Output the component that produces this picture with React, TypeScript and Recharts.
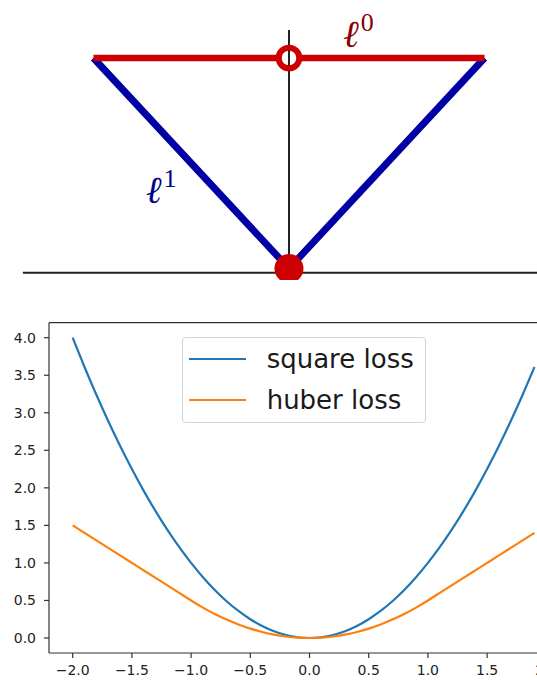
import { ComposedChart, LineChart, Line, Scatter, XAxis, YAxis, Legend, ReferenceLine } from "recharts";

// --- ℓ1 / ℓ0 penalty sketch (1-D) ---
const l1X = [-1, 0, 1];
const l1Y = [1, 0, 1];
const l0X = [-1, 1];
const l0Y = [1, 1];
const hAxisX = [-1.361, 1.3];
const hAxisY = [-0.02, -0.02];
const vAxisX = [0, 0];
const vAxisY = [-0.02, 1.133];
const openDotPts = [{ x: 0, y: 1 }];
const closedDotPts = [{ x: 0, y: 0 }];
const l0Label = [{ x: 0.276, y: 1.05, sup: "0" }];
const l1Label = [{ x: -0.733, y: 0.31, sup: "1" }];

// --- square vs huber loss ---
const lossX = [
  -2.0, -1.9, -1.8, -1.7, -1.6, -1.5, -1.4, -1.3, -1.2, -1.1,
  -1.0, -0.9, -0.8, -0.7, -0.6, -0.5, -0.4, -0.3, -0.2, -0.1,
  0.0, 0.1, 0.2, 0.3, 0.4, 0.5, 0.6, 0.7, 0.8, 0.9,
  1.0, 1.1, 1.2, 1.3, 1.4, 1.5, 1.6, 1.7, 1.8, 1.9,
];
const squareLoss = [
  4.0, 3.61, 3.24, 2.89, 2.56, 2.25, 1.96, 1.69, 1.44, 1.21,
  1.0, 0.81, 0.64, 0.49, 0.36, 0.25, 0.16, 0.09, 0.04, 0.01,
  0.0, 0.01, 0.04, 0.09, 0.16, 0.25, 0.36, 0.49, 0.64, 0.81,
  1.0, 1.21, 1.44, 1.69, 1.96, 2.25, 2.56, 2.89, 3.24, 3.61,
];
const huberLoss = [
  1.5, 1.4, 1.3, 1.2, 1.1, 1.0, 0.9, 0.8, 0.7, 0.6,
  0.5, 0.405, 0.32, 0.245, 0.18, 0.125, 0.08, 0.045, 0.02, 0.005,
  0.0, 0.005, 0.02, 0.045, 0.08, 0.125, 0.18, 0.245, 0.32, 0.405,
  0.5, 0.6, 0.7, 0.8, 0.9, 1.0, 1.1, 1.2, 1.3, 1.4,
];
const seriesNames = ["square loss", "huber loss"];
const xTicks = [-2, -1.5, -1, -0.5, 0, 0.5, 1, 1.5, 2];
const yTicks = [0, 0.5, 1, 1.5, 2, 2.5, 3, 3.5, 4];
const yTop = 4.2;

const zip = (xs: number[], ys: number[]) => xs.map((x, i) => ({ x, y: ys[i] }));

const lossRows = lossX.map((x, i) => ({ x, square: squareLoss[i], huber: huberLoss[i] }));

const RED = "#cc0000";
const BLUE = "#0000a5";
const AXIS = "#222";
const SQUARE = "#1f77b4";
const HUBER = "#ff7f0e";
const SPINE = "#333";
const mathFont = "'Liberation Serif', 'DejaVu Serif', serif";
const tickFamily = "'DejaVu Sans', sans-serif";
const tickSize = 14;

const fmt = (v: number) => v.toFixed(1).replace("-", "\u2212");

function XTick(props: any) {
  const { x, y, payload } = props;
  return (
    <text x={x} y={y} dy="0.75em" textAnchor="middle" fill="#222"
      fontFamily={tickFamily} fontSize={tickSize}>
      {fmt(payload.value)}
    </text>
  );
}

function YTick(props: any) {
  const { x, y, payload } = props;
  return (
    <text x={x} y={y} dy="0.36em" textAnchor="end" fill="#222"
      fontFamily={tickFamily} fontSize={tickSize}>
      {fmt(payload.value)}
    </text>
  );
}

function OpenDot(props: any) {
  const { cx, cy } = props;
  const r = 10.3;
  return (
    <g>
      <circle cx={cx} cy={cy} r={r} fill="#fff" />
      <line x1={cx} x2={cx} y1={cy - r} y2={cy + r} stroke={AXIS} strokeWidth={2} />
      <circle cx={cx} cy={cy} r={r} fill="none" stroke={RED} strokeWidth={6} />
    </g>
  );
}

function ClosedDot(props: any) {
  const { cx, cy } = props;
  return <circle cx={cx} cy={cy} r={14.5} fill={RED} />;
}

function normLabel(color: string) {
  return (props: any) => {
    const { cx, cy, payload } = props;
    return (
      <text x={cx} y={cy} fill={color} fontFamily={mathFont}>
        <tspan fontStyle="italic" fontSize={38}>ℓ</tspan>
        <tspan fontSize={26} dx={2} dy={-16}>{payload.sup}</tspan>
      </text>
    );
  };
}

// legend box in matplotlib style; entries kept in plotting order
function LossLegend() {
  const entries = [
    { name: seriesNames[0], color: SQUARE },
    { name: seriesNames[1], color: HUBER },
  ];
  return (
    <div
      style={{
        boxSizing: "border-box",
        width: 244.5,
        height: 86.5,
        paddingTop: 1,
        border: "1px solid #d4d4d4",
        borderRadius: 4,
        background: "rgba(255,255,255,0.8)",
        fontFamily: "'DejaVu Sans', sans-serif",
        fontSize: 26,
        color: "#1a1a1a",
      }}
    >
      {entries.map((e) => (
        <div key={e.name} style={{ display: "flex", alignItems: "center", height: 41 }}>
          <div style={{ marginLeft: 6.6, width: 56.7, height: 2.5, background: e.color }} />
          <span style={{ marginLeft: 20.7, lineHeight: "41px", whiteSpace: "nowrap" }}>{e.name}</span>
        </div>
      ))}
    </div>
  );
}

export default function App() {
  return (
    <div
      style={{
        position: "fixed",
        left: 0,
        top: 0,
        width: 537,
        height: 680,
        overflow: "hidden",
        background: "#fff",
      }}
    >
      <div style={{ position: "absolute", left: 0, top: 0, width: 537, height: 280 }}>
        <ComposedChart width={537} height={280} margin={{ top: 0, right: 0, bottom: 0, left: 0 }}>
          <XAxis hide type="number" dataKey="x" domain={[-1.478, 1.2685]} allowDataOverflow />
          <YAxis hide type="number" dataKey="y" domain={[-0.0546, 1.2755]} allowDataOverflow />
          <Line data={zip(hAxisX, hAxisY)} dataKey="y" type="linear" stroke={AXIS} strokeWidth={2}
            dot={false} activeDot={false} isAnimationActive={false} />
          <Line data={zip(vAxisX, vAxisY)} dataKey="y" type="linear" stroke={AXIS} strokeWidth={2}
            dot={false} activeDot={false} isAnimationActive={false} />
          <Line data={zip(l1X, l1Y)} dataKey="y" type="linear" stroke={BLUE} strokeWidth={7}
            dot={false} activeDot={false} isAnimationActive={false} />
          <Line data={zip(l0X, l0Y)} dataKey="y" type="linear" stroke={RED} strokeWidth={6.5}
            dot={false} activeDot={false} isAnimationActive={false} />
          <Scatter data={openDotPts} shape={OpenDot} isAnimationActive={false} />
          <Scatter data={closedDotPts} shape={ClosedDot} isAnimationActive={false} />
          <Scatter data={l0Label} shape={normLabel("#8b0000")} isAnimationActive={false} />
          <Scatter data={l1Label} shape={normLabel("#00008b")} isAnimationActive={false} />
        </ComposedChart>
      </div>

      <div style={{ position: "absolute", left: 0, top: 300, width: 570, height: 380 }}>
        <LineChart width={570} height={380} data={lossRows}
          margin={{ top: 22.7, right: 0, bottom: 0, left: 0 }}>
          <XAxis
            type="number"
            dataKey="x"
            domain={[-2.2, 2.2]}
            ticks={xTicks}
            interval={0}
            allowDataOverflow
            height={27}
            tickSize={5}
            tickMargin={6}
            tick={<XTick />}
            axisLine={{ stroke: SPINE, strokeWidth: 1.2 }}
            tickLine={{ stroke: SPINE, strokeWidth: 1.2 }}
          />
          <YAxis
            type="number"
            domain={[-0.2, yTop]}
            ticks={yTicks}
            interval={0}
            allowDataOverflow
            width={49}
            tickSize={5}
            tickMargin={8}
            tick={<YTick />}
            axisLine={{ stroke: SPINE, strokeWidth: 1.2 }}
            tickLine={{ stroke: SPINE, strokeWidth: 1.2 }}
          />
          {/* top spine */}
          <ReferenceLine y={yTop} stroke={SPINE} strokeWidth={1.2} />
          <Legend
            verticalAlign="middle"
            content={<LossLegend />}
            wrapperStyle={{ left: 181.7, top: 36.7, width: "auto", height: "auto" }}
          />
          <Line name={seriesNames[0]} dataKey="square" type="natural" stroke={SQUARE} strokeWidth={2.2}
            dot={false} activeDot={false} isAnimationActive={false} />
          <Line name={seriesNames[1]} dataKey="huber" type="natural" stroke={HUBER} strokeWidth={2.2}
            dot={false} activeDot={false} isAnimationActive={false} />
        </LineChart>
      </div>
    </div>
  );
}
